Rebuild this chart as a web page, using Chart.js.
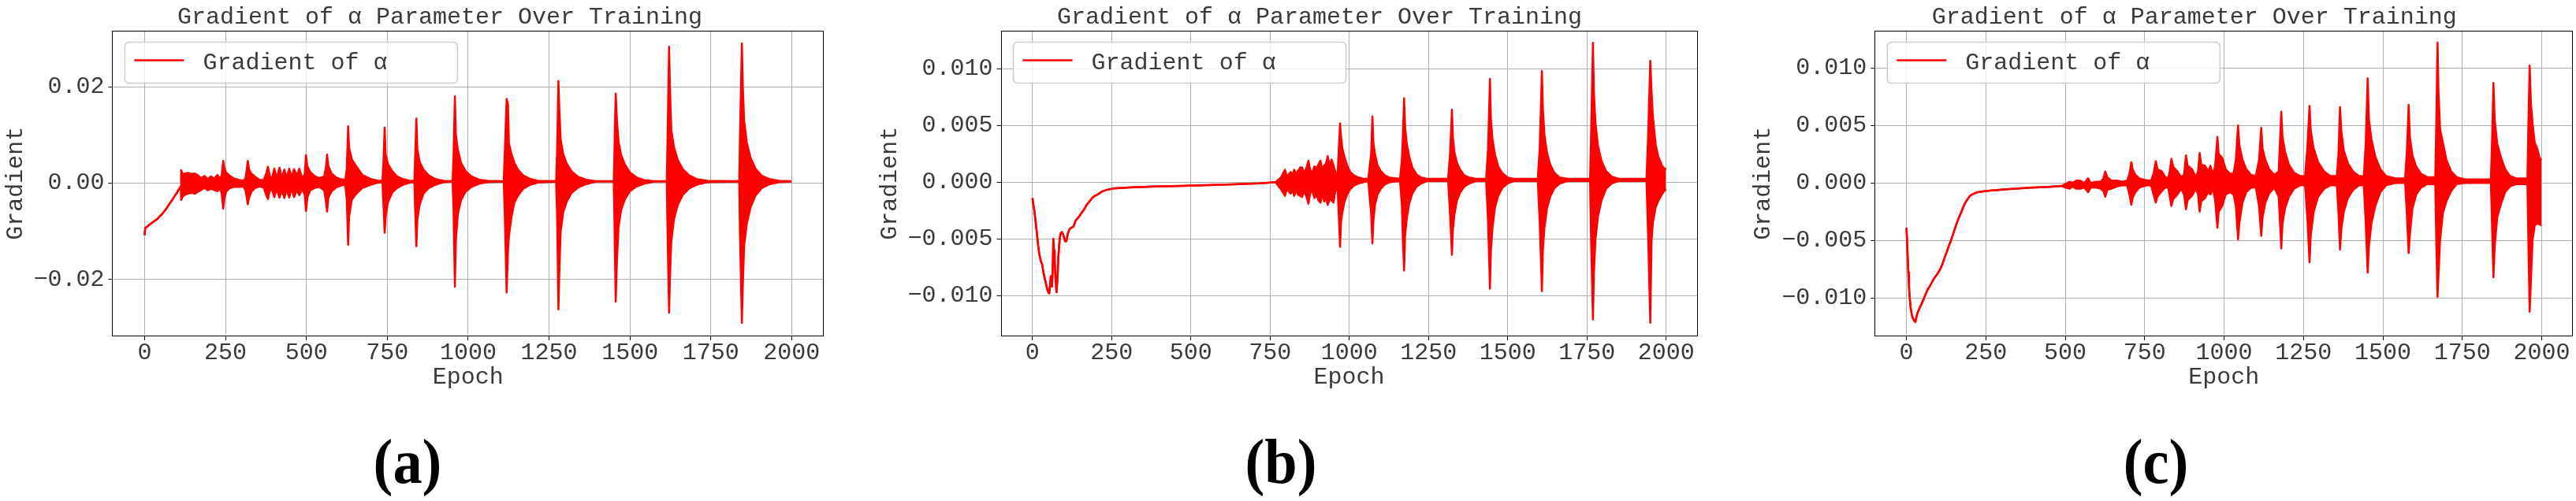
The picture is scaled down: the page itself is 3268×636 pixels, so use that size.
<!DOCTYPE html>
<html>
<head>
<meta charset="utf-8">
<title>Gradient of α Parameter Over Training</title>
<script src="https://cdn.jsdelivr.net/npm/chart.js@4.4.0/dist/chart.umd.min.js"></script>
<style>
    html, body { margin: 0; padding: 0; background: #fff; }
    body { width: 3268px; height: 636px; position: relative; overflow: hidden; }
    .panel { position: absolute; top: 0; }
    .sublabel {
        position: absolute; top: 546px; width: 200px; text-align: center;
        font-family: 'Liberation Serif', 'Times New Roman', serif; font-weight: bold;
        font-size: 80px; line-height: 80px; color: #000; transform: scaleX(0.93);
    }
</style>
</head>
<body>
<canvas id="chartA" class="panel" style="left:0px" width="1050" height="500"></canvas>
<canvas id="chartB" class="panel" style="left:1090px" width="1069" height="500"></canvas>
<canvas id="chartC" class="panel" style="left:2200px" width="1068" height="500"></canvas>
<div class="sublabel" style="left:417px">(a)</div>
<div class="sublabel" style="left:1525px">(b)</div>
<div class="sublabel" style="left:2635px">(c)</div>

<script>
// ========================================
// DATA
// ========================================

const xTicks = [0, 250, 500, 750, 1000, 1250, 1500, 1750, 2000];
const yTicksA = [-0.02, 0, 0.02];
const yTicksB = [-0.010, -0.005, 0, 0.005, 0.010];
const yTicksC = [-0.010, -0.005, 0, 0.005, 0.010];

// --- Panel (a) ---
// smooth part before the oscillation starts
const lineEpochsA = [0, 2, 5, 12, 24, 40, 57, 69, 85, 97, 105, 112];
const lineValuesA = [-0.0108, -0.0093, -0.0092, -0.0088, -0.0082, -0.0074, -0.0062, -0.0051, -0.0035, -0.0023, -0.0014, -0.0007];
// oscillating part: upper and lower envelope of the red trace
const bandEpochsA = [
    113, 118, 125, 135, 145, 155, 165, 175, 185, 195, 205, 215, 225, 232, 238,
    243, 247, 252, 262, 275, 290, 305,
    312, 319, 323, 330, 342, 355, 368,
    376, 381, 387, 394, 401, 408, 417, 424, 432, 439, 447, 454, 462, 470, 478, 488, 495,
    499, 503, 512, 525, 540, 555, 561, 564, 568, 578, 592, 608, 620,
    625, 629, 632, 640, 653, 673, 697, 722, 735,
    738, 742, 745, 752, 765, 780, 800, 820, 834,
    836, 840, 843, 850, 862, 878, 900, 925, 952,
    955, 959, 962, 968, 978, 992, 1010, 1035, 1060, 1110,
    1113, 1119, 1123, 1126, 1134, 1143, 1155, 1170, 1190, 1215, 1272,
    1275, 1279, 1282, 1286, 1294, 1305, 1320, 1340, 1365, 1395, 1450,
    1452, 1456, 1460, 1465, 1473, 1485, 1500, 1520, 1545, 1575, 1614,
    1616, 1621, 1624, 1628, 1636, 1648, 1663, 1683, 1708, 1740, 1838,
    1840, 1846, 1849, 1853, 1861, 1873, 1888, 1908, 1933, 1960, 1999
];
const bandHighA = [
    0.0027, 0.0018, 0.0020, 0.0021, 0.0019, 0.0020, 0.0016, 0.0010, 0.0015, 0.0008, 0.0014, 0.0009, 0.0017, 0.0010, 0.0015,
    0.0046, 0.0030, 0.0022, 0.0016, 0.0010, 0.0007, 0.0005,
    0.0010, 0.0046, 0.0028, 0.0020, 0.0013, 0.0007, 0.0006,
    0.0020, 0.0034, 0.0015, 0.0010, 0.0030, 0.0010, 0.0032, 0.0012, 0.0028, 0.0011, 0.0030, 0.0012, 0.0029, 0.0015, 0.0030, 0.0008, 0.0020,
    0.0058, 0.0035, 0.0023, 0.0015, 0.0010, 0.0014, 0.0035, 0.0059, 0.0035, 0.0020, 0.0012, 0.0008, 0.0006,
    0.0030, 0.0118, 0.0074, 0.0050, 0.0036, 0.0017, 0.0009, 0.0005, 0.0005,
    0.0040, 0.0115, 0.0060, 0.0040, 0.0025, 0.0014, 0.0008, 0.0005, 0.0005,
    0.0050, 0.0134, 0.0070, 0.0045, 0.0028, 0.0016, 0.0008, 0.0005, 0.0004,
    0.0060, 0.0180, 0.0100, 0.0070, 0.0042, 0.0025, 0.0014, 0.0007, 0.0005, 0.0004,
    0.0060, 0.0175, 0.0164, 0.0083, 0.0060, 0.0042, 0.0027, 0.0016, 0.0009, 0.0005, 0.0004,
    0.0070, 0.0212, 0.0150, 0.0090, 0.0060, 0.0040, 0.0024, 0.0013, 0.0007, 0.0004, 0.0004,
    0.0060, 0.0186, 0.0130, 0.0085, 0.0058, 0.0038, 0.0022, 0.0012, 0.0006, 0.0004, 0.0004,
    0.0080, 0.0283, 0.0190, 0.0110, 0.0075, 0.0048, 0.0029, 0.0016, 0.0008, 0.0005, 0.0004,
    0.0090, 0.0290, 0.0200, 0.0130, 0.0085, 0.0052, 0.0030, 0.0015, 0.0008, 0.0005, 0.0004
];
const bandLowA = [
    -0.0035, -0.0028, -0.0024, -0.0022, -0.0020, -0.0022, -0.0018, -0.0014, -0.0010, -0.0015, -0.0012, -0.0014, -0.0017, -0.0011, -0.0020,
    -0.0053, -0.0030, -0.0018, -0.0011, -0.0008, -0.0008, -0.0007,
    -0.0015, -0.0044, -0.0030, -0.0018, -0.0010, -0.0007, -0.0009,
    -0.0025, -0.0033, -0.0015, -0.0014, -0.0029, -0.0012, -0.0030, -0.0014, -0.0031, -0.0012, -0.0030, -0.0011, -0.0029, -0.0015, -0.0025, -0.0012, -0.0025,
    -0.0058, -0.0030, -0.0015, -0.0010, -0.0008, -0.0015, -0.0040, -0.0059, -0.0030, -0.0017, -0.0009, -0.0005, -0.0003,
    -0.0035, -0.0128, -0.0070, -0.0035, -0.0023, -0.0010, -0.0004, 0.0001, 0.0001,
    -0.0040, -0.0103, -0.0070, -0.0040, -0.0020, -0.0010, -0.0003, 0.0001, 0.0002,
    -0.0050, -0.0131, -0.0075, -0.0045, -0.0022, -0.0010, -0.0003, 0.0002, 0.0003,
    -0.0060, -0.0215, -0.0120, -0.0065, -0.0035, -0.0018, -0.0008, -0.0001, 0.0002, 0.0003,
    -0.0060, -0.0227, -0.0143, -0.0110, -0.0070, -0.0040, -0.0025, -0.0012, -0.0004, 0.0001, 0.0003,
    -0.0070, -0.0262, -0.0180, -0.0100, -0.0060, -0.0038, -0.0020, -0.0009, -0.0002, 0.0003, 0.0003,
    -0.0070, -0.0246, -0.0160, -0.0090, -0.0055, -0.0033, -0.0017, -0.0007, -0.0001, 0.0003, 0.0003,
    -0.0090, -0.0269, -0.0190, -0.0120, -0.0075, -0.0045, -0.0025, -0.0011, -0.0003, 0.0002, 0.0003,
    -0.0100, -0.0290, -0.0210, -0.0130, -0.0085, -0.0050, -0.0026, -0.0010, -0.0002, 0.0002, 0.0003
];

// --- Panel (b) ---
const lineEpochsB = [
    0, 3, 6, 10, 14, 18, 22, 27, 31, 35, 39, 43, 47, 50, 53, 56, 58, 60, 62, 64,
    66, 68, 70, 73, 76, 79, 82, 86, 89, 93, 97, 103, 107, 112, 118, 124, 130, 136, 142, 148,
    155, 163, 171, 180, 188, 197, 205, 221, 238, 254, 304, 387, 470, 553, 635, 718, 768
];
const lineValuesB = [
    -0.0014, -0.0020, -0.0025, -0.0035, -0.0045, -0.0056, -0.0064, -0.0070, -0.0073, -0.0080,
    -0.0085, -0.0090, -0.0095, -0.0097, -0.0098, -0.0090, -0.0083, -0.0090, -0.0092, -0.0075,
    -0.0050, -0.0060, -0.0069, -0.0085, -0.0097, -0.0085, -0.0065, -0.0050, -0.0045, -0.0044,
    -0.0046, -0.0052, -0.0052, -0.0045, -0.0041, -0.0040, -0.0039, -0.0034, -0.0032, -0.0030,
    -0.0027, -0.0024, -0.0020, -0.0017, -0.0014, -0.0012, -0.0011, -0.0008, -0.00065, -0.00056,
    -0.00046, -0.00037, -0.00032, -0.00026, -0.00019, -0.0001, 0.0
];
const bandEpochsB = [
    775, 784, 797, 803, 809, 815, 821, 826, 832, 838, 845, 851, 857, 864, 871,
    877, 884, 890, 896, 903, 909, 915, 921, 926, 932, 938, 944, 950, 956, 963,
    967, 971, 974, 978, 985, 993, 1003, 1015, 1030, 1045, 1060,
    1069, 1073, 1076, 1081, 1089, 1099, 1112, 1128, 1160,
    1166, 1169, 1173, 1176, 1181, 1189, 1199, 1212, 1228, 1245, 1312,
    1318, 1324, 1327, 1332, 1340, 1350, 1363, 1380, 1400, 1432,
    1438, 1444, 1447, 1452, 1460, 1470, 1483, 1500, 1520, 1595,
    1601, 1608, 1611, 1616, 1624, 1635, 1648, 1665, 1690, 1760,
    1763, 1769, 1772, 1777, 1785, 1796, 1810, 1828, 1850, 1938,
    1943, 1950, 1954, 1958, 1967, 1976, 1988, 1999
];
const bandHighB = [
    0.0002, 0.0004, 0.0011, 0.0005, 0.0007, 0.0009, 0.0006, 0.0011, 0.0007, 0.0010, 0.0013, 0.0013, 0.0008, 0.0012, 0.0019,
    0.0010, 0.0009, 0.0014, 0.0012, 0.0016, 0.0019, 0.0011, 0.0015, 0.0016, 0.0023, 0.0014, 0.0020, 0.0015, 0.0009, 0.0006,
    0.0030, 0.0052, 0.0040, 0.0030, 0.0022, 0.0015, 0.0009, 0.0006, 0.0004, 0.0003, 0.0003,
    0.0025, 0.0058, 0.0035, 0.0025, 0.0015, 0.0010, 0.0006, 0.0004, 0.0003,
    0.0020, 0.0040, 0.0074, 0.0050, 0.0035, 0.0023, 0.0013, 0.0007, 0.0004, 0.0003, 0.0003,
    0.0025, 0.0064, 0.0040, 0.0026, 0.0017, 0.0011, 0.0006, 0.0004, 0.0003, 0.0003,
    0.0030, 0.0091, 0.0055, 0.0038, 0.0024, 0.0014, 0.0008, 0.0004, 0.0003, 0.0003,
    0.0030, 0.0098, 0.0065, 0.0042, 0.0026, 0.0015, 0.0008, 0.0004, 0.0003, 0.0003,
    0.0040, 0.0123, 0.0080, 0.0052, 0.0032, 0.0019, 0.0010, 0.0005, 0.0003, 0.0003,
    0.0040, 0.0107, 0.0080, 0.0059, 0.0033, 0.0022, 0.0014, 0.0011
];
const bandLowB = [
    -0.0003, -0.0006, -0.0012, -0.0006, -0.0008, -0.0010, -0.0007, -0.0012, -0.0007, -0.0011, -0.0012, -0.0013, -0.0008, -0.0012, -0.0019,
    -0.0009, -0.0008, -0.0014, -0.0011, -0.0016, -0.0018, -0.0010, -0.0017, -0.0013, -0.0020, -0.0015, -0.0016, -0.0018, -0.0008, -0.0005,
    -0.0030, -0.0057, -0.0035, -0.0027, -0.0017, -0.0011, -0.0006, -0.0003, -0.0001, 0.0000, 0.0001,
    -0.0028, -0.0054, -0.0035, -0.0020, -0.0011, -0.0006, -0.0002, 0.0000, 0.0001,
    -0.0020, -0.0050, -0.0078, -0.0048, -0.0033, -0.0019, -0.0010, -0.0004, -0.0001, 0.0001, 0.0001,
    -0.0028, -0.0064, -0.0042, -0.0028, -0.0016, -0.0009, -0.0004, -0.0001, 0.0001, 0.0001,
    -0.0035, -0.0094, -0.0060, -0.0040, -0.0022, -0.0012, -0.0005, -0.0001, 0.0001, 0.0001,
    -0.0035, -0.0096, -0.0060, -0.0040, -0.0023, -0.0012, -0.0005, -0.0001, 0.0001, 0.0001,
    -0.0050, -0.0121, -0.0080, -0.0050, -0.0030, -0.0016, -0.0006, -0.0001, 0.0001, 0.0001,
    -0.0045, -0.0124, -0.0052, -0.0036, -0.0022, -0.0016, -0.0010, -0.0006
];

// --- Panel (c) ---
const lineEpochsC = [
    0, 2, 4, 6, 8, 10, 13, 17, 21, 25, 28, 31, 35, 41, 48, 54, 60, 66, 73, 79,
    87, 95, 102, 108, 114, 120, 127, 133, 139, 145, 151, 157, 164, 170, 176, 182, 188, 195, 201, 207,
    215, 224, 249, 307, 389, 450, 489
];
const lineValuesC = [
    -0.0039, -0.0051, -0.0065, -0.0078, -0.0090, -0.0099, -0.0108, -0.0115, -0.0118, -0.0120,
    -0.0121, -0.0117, -0.0113, -0.0109, -0.0105, -0.0101, -0.0097, -0.0093, -0.0090, -0.0087,
    -0.0083, -0.0080, -0.0077, -0.0074, -0.0070, -0.0065, -0.0060, -0.0055, -0.0051, -0.0046,
    -0.0041, -0.0036, -0.0031, -0.0027, -0.0023, -0.0019, -0.0016, -0.0013, -0.0011, -0.0010,
    -0.0009, -0.0008, -0.0007, -0.00057, -0.00041, -0.00034, -0.00026
];
const bandEpochsC = [
    500, 514, 522, 535, 547, 560, 572, 580, 597, 612, 620, 626, 632, 645, 663, 679, 695, 702, 708, 712,
    721, 733, 746, 760, 770, 778, 785, 790, 804, 815, 824, 829, 834, 840, 853, 865, 874, 880, 885, 899,
    911, 918, 923, 928, 940, 950, 957, 965, 972,
    979, 983, 994, 1005, 1018, 1030, 1037, 1044, 1048, 1058, 1070, 1085, 1100, 1110, 1117, 1121, 1130, 1142, 1158, 1172,
    1180, 1184, 1192, 1204, 1220, 1240, 1255,
    1262, 1269, 1273, 1282, 1296, 1315, 1335, 1355, 1360, 1365, 1369, 1377, 1390, 1406, 1425, 1440,
    1446, 1452, 1456, 1464, 1476, 1492, 1510, 1540, 1570, 1576, 1581, 1585, 1593, 1605, 1620, 1640, 1665,
    1668, 1672, 1675, 1680, 1689, 1700, 1715, 1732, 1760, 1840, 1844, 1848, 1852, 1860, 1872, 1885, 1900, 1920, 1955, 1958,
    1962, 1966, 1971, 1978, 1986, 1993, 1999
];
const bandHighC = [
    -0.0001, 0.0001, 0.0000, 0.0002, 0.0002, 0.0000, 0.0004, 0.0000, 0.0001, 0.0001, 0.0004, 0.0010, 0.0005, 0.0002, 0.0002, 0.0001, 0.0002, 0.0008, 0.0018, 0.0012,
    0.0007, 0.0004, 0.0003, 0.0002, 0.0002, 0.0008, 0.0019, 0.0012, 0.0010, 0.0005, 0.0004, 0.0010, 0.0021, 0.0014, 0.0010, 0.0005, 0.0007, 0.0024, 0.0015, 0.0012,
    0.0005, 0.0010, 0.0026, 0.0016, 0.0015, 0.0010, 0.0015, 0.0007, 0.0015,
    0.0040, 0.0025, 0.0022, 0.0012, 0.0008, 0.0008, 0.0020, 0.0050, 0.0033, 0.0020, 0.0012, 0.0007, 0.0006, 0.0020, 0.0048, 0.0030, 0.0020, 0.0012, 0.0007, 0.0010,
    0.0062, 0.0040, 0.0027, 0.0016, 0.0009, 0.0006, 0.0006,
    0.0030, 0.0067, 0.0045, 0.0030, 0.0018, 0.0010, 0.0006, 0.0006, 0.0025, 0.0066, 0.0045, 0.0028, 0.0017, 0.0010, 0.0006, 0.0006,
    0.0035, 0.0091, 0.0055, 0.0038, 0.0023, 0.0012, 0.0006, 0.0004, 0.0004, 0.0030, 0.0068, 0.0040, 0.0024, 0.0014, 0.0008, 0.0005, 0.0005,
    0.0050, 0.0122, 0.0080, 0.0047, 0.0035, 0.0020, 0.0010, 0.0005, 0.0003, 0.0003, 0.0040, 0.0087, 0.0055, 0.0034, 0.0022, 0.0012, 0.0006, 0.0004, 0.0004, 0.0050,
    0.0102, 0.0070, 0.0052, 0.0035, 0.0030, 0.0022, 0.0020
];
const bandLowC = [
    -0.0004, -0.0005, -0.0003, -0.0005, -0.0005, -0.0004, -0.0008, -0.0004, -0.0004, -0.0005, -0.0007, -0.0012, -0.0006, -0.0005, -0.0003, -0.0002, -0.0002, -0.0010, -0.0019, -0.0013,
    -0.0008, -0.0004, -0.0003, -0.0002, -0.0002, -0.0010, -0.0017, -0.0012, -0.0007, -0.0004, -0.0004, -0.0012, -0.0020, -0.0014, -0.0010, -0.0005, -0.0010, -0.0023, -0.0015, -0.0011,
    -0.0005, -0.0010, -0.0025, -0.0016, -0.0013, -0.0008, -0.0010, -0.0005, -0.0015,
    -0.0039, -0.0025, -0.0020, -0.0010, -0.0008, -0.0010, -0.0020, -0.0049, -0.0035, -0.0017, -0.0008, -0.0004, -0.0004, -0.0020, -0.0046, -0.0030, -0.0017, -0.0009, -0.0004, -0.0012,
    -0.0057, -0.0035, -0.0022, -0.0012, -0.0005, -0.0002, -0.0002,
    -0.0030, -0.0069, -0.0045, -0.0025, -0.0012, -0.0005, -0.0002, -0.0002, -0.0025, -0.0058, -0.0040, -0.0025, -0.0013, -0.0006, -0.0002, -0.0002,
    -0.0035, -0.0078, -0.0055, -0.0035, -0.0020, -0.0008, -0.0002, 0.0000, 0.0000, -0.0030, -0.0061, -0.0045, -0.0022, -0.0010, -0.0004, -0.0001, -0.0001,
    -0.0050, -0.0099, -0.0080, -0.0050, -0.0026, -0.0016, -0.0007, -0.0001, 0.0000, 0.0000, -0.0040, -0.0082, -0.0055, -0.0030, -0.0018, -0.0008, -0.0003, -0.0001, -0.0001, -0.0050,
    -0.0112, -0.0085, -0.0050, -0.0037, -0.0035, -0.0036, -0.0037
];

// ========================================
// STYLE
// ========================================
const RED = '#ff0000';
const MONO = "'Liberation Mono', 'Courier New', monospace";
const TEXT = '#3a3a3a';   // thin Courier text in the reference reads as dark grey
const GRID = '#b0b0b0';
const TITLE = 'Gradient of α Parameter Over Training';
const SERIES = 'Gradient of α';

// --- plugin: black frame around the plot area ---
const framePlugin = {
    id: 'frame',
    afterDraw(chart) {
        const { ctx, chartArea: a } = chart;
        ctx.save();
        ctx.strokeStyle = '#000';
        ctx.lineWidth = 1;
        const l = Math.round(a.left) + 0.5, t = Math.round(a.top) + 0.5;
        const r = Math.round(a.right) - 0.5, b = Math.round(a.bottom) - 0.5;
        ctx.strokeRect(l, t, r - l, b - t);
        ctx.restore();
    }
};

// --- plugin: title above the axes (matplotlib puts it a bit left of centre here) ---
const titlePlugin = {
    id: 'panelTitle',
    afterDraw(chart, args, opts) {
        const { ctx, chartArea: a } = chart;
        ctx.save();
        ctx.font = '30px ' + MONO;
        ctx.fillStyle = TEXT;
        ctx.textAlign = 'center';
        ctx.textBaseline = 'alphabetic';
        ctx.fillText(opts.text, (a.left + a.right) / 2 + opts.shift, 29.5);
        ctx.restore();
    }
};

// --- plugin: framed legend in the upper-left corner ---
const legendPlugin = {
    id: 'boxLegend',
    afterDatasetsDraw(chart) {
        const { ctx, chartArea: a } = chart;
        const ds = chart.data.datasets[0];
        const x = a.left + 16, y = a.top + 15, w = 422, h = 52;
        ctx.save();
        ctx.beginPath();
        ctx.roundRect(x, y, w, h, 5);
        ctx.fillStyle = 'rgba(255,255,255,0.8)';
        ctx.fill();
        ctx.strokeStyle = '#cccccc';
        ctx.lineWidth = 1.5;
        ctx.stroke();

        ctx.beginPath();
        ctx.moveTo(x + 12, y + 23);
        ctx.lineTo(x + 75, y + 23);
        ctx.strokeStyle = ds.borderColor;
        ctx.lineWidth = 2.7;
        ctx.stroke();

        ctx.font = '30px ' + MONO;
        ctx.fillStyle = TEXT;
        ctx.textBaseline = 'alphabetic';
        ctx.fillText(ds.label, x + 99, y + 34);
        ctx.restore();
    }
};

function formatTick(v, decimals) {
    return Number(v).toFixed(decimals).replace('-', '\u2212');
}

// --- builds one panel ---
function buildPanel(id, p) {
    if (p.bandEpochs.length !== p.bandHigh.length || p.bandEpochs.length !== p.bandLow.length) {
        console.warn('length mismatch in', id);
    }
    const linePts = p.lineEpochs.map((e, i) => ({ x: e, y: p.lineValues[i] }));
    const upper = linePts.concat(p.bandEpochs.map((e, i) => ({ x: e, y: p.bandHigh[i] })));
    const lower = linePts.concat(p.bandEpochs.map((e, i) => ({ x: e, y: p.bandLow[i] })));

    const common = {
        borderColor: RED, backgroundColor: RED, borderWidth: 2.5,
        pointRadius: 0, tension: 0, borderJoinStyle: 'round'
    };

    return new Chart(document.getElementById(id), {
        type: 'line',
        data: {
            datasets: [
                { ...common, label: SERIES, data: upper, fill: false },
                { ...common, label: SERIES + ' (lower)', data: lower, fill: '-1' }
            ]
        },
        options: {
            responsive: false,
            animation: false,
            devicePixelRatio: 1,
            layout: { padding: { top: 38.5, right: p.padRight, left: 0, bottom: 0 } },
            plugins: {
                legend: { display: false },
                tooltip: { enabled: false },
                panelTitle: { text: TITLE, shift: p.titleShift }
            },
            scales: {
                x: {
                    type: 'linear', min: -100, max: 2099,
                    afterBuildTicks: s => { s.ticks = xTicks.map(v => ({ value: v })); },
                    afterFit: s => { s.height = 73; },
                    grid: { color: GRID, lineWidth: 1, tickColor: '#000', tickLength: 5 },
                    border: { display: false },
                    ticks: {
                        autoSkip: false, maxRotation: 0, padding: 1, color: TEXT,
                        font: { family: MONO, size: 30, lineHeight: 1 },
                        callback: v => String(v)
                    },
                    title: {
                        display: true, text: 'Epoch', color: TEXT,
                        font: { family: MONO, size: 30, lineHeight: 1.2 },
                        padding: { top: 0, bottom: 3 }
                    }
                },
                y: {
                    min: p.yMin, max: p.yMax,
                    afterBuildTicks: s => { s.ticks = p.yTicks.map(v => ({ value: v })); },
                    afterFit: s => { s.width = p.yWidth; },
                    grid: { color: GRID, lineWidth: 1, tickColor: '#000', tickLength: 5 },
                    border: { display: false },
                    ticks: {
                        padding: 5, color: TEXT,
                        font: { family: MONO, size: 30, lineHeight: 1.2 },
                        callback: v => formatTick(v, p.decimals)
                    },
                    title: {
                        display: true, text: 'Gradient', color: TEXT,
                        font: { family: MONO, size: 30, lineHeight: 1.2 },
                        padding: { top: p.yTitlePad, bottom: 0 }
                    }
                }
            }
        },
        plugins: [legendPlugin, framePlugin, titlePlugin]
    });
}

buildPanel('chartA', {
    lineEpochs: lineEpochsA, lineValues: lineValuesA,
    bandEpochs: bandEpochsA, bandHigh: bandHighA, bandLow: bandLowA,
    yTicks: yTicksA, decimals: 2, yMin: -0.0318, yMax: 0.0317,
    yWidth: 142.4, padRight: 5, yTitlePad: 2, titleShift: -35.7
});

buildPanel('chartB', {
    lineEpochs: lineEpochsB, lineValues: lineValuesB,
    bandEpochs: bandEpochsB, bandHigh: bandHighB, bandLow: bandLowB,
    yTicks: yTicksB, decimals: 3, yMin: -0.0136, yMax: 0.0134,
    yWidth: 179.6, padRight: 5.5, yTitlePad: 20.6, titleShift: -37.5
});

buildPanel('chartC', {
    lineEpochs: lineEpochsC, lineValues: lineValuesC,
    bandEpochs: bandEpochsC, bandHigh: bandHighC, bandLow: bandLowC,
    yTicks: yTicksC, decimals: 3, yMin: -0.01334, yMax: 0.01327,
    yWidth: 178.3, padRight: 3.6, yTitlePad: 18.6, titleShift: -37.6
});
</script>
</body>
</html>
